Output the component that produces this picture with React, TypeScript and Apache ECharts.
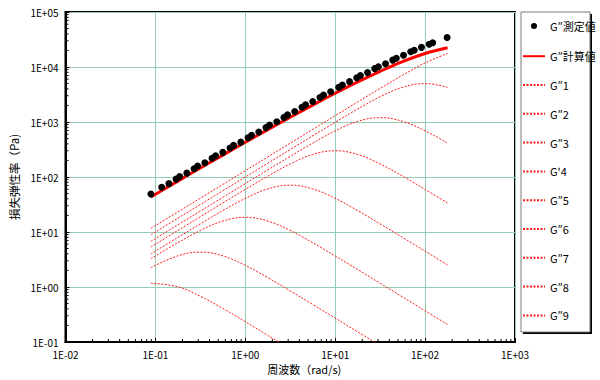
import React, { useEffect, useRef } from 'react';
import * as echarts from 'echarts';

const FONT = '"Noto Sans CJK JP", "Noto Sans", sans-serif';

// Measured G'' (frequency rad/s, Pa)
const freqMeasured = [0.0891, 0.1175, 0.1413, 0.1698, 0.1862, 0.2239, 0.2692, 0.2951, 0.3548, 0.4266, 0.4677, 0.5623, 0.6761, 0.7413, 0.8913, 1.072, 1.175, 1.413, 1.698, 1.862, 2.239, 2.692, 2.951, 3.548, 4.266, 4.677, 5.623, 6.761, 7.413, 8.913, 10.96, 12.02, 14.45, 17.38, 19.05, 22.91, 27.54, 30.2, 36.31, 43.65, 47.86, 57.54, 69.18, 75.86, 91.2, 110.9, 121.6, 175.8];
const gMeasured = [49.2, 64.9, 75.7, 91.4, 102.1, 117.5, 141.6, 158.1, 182.0, 218.8, 244.3, 280.5, 337.3, 375.8, 430.5, 517.6, 575.4, 659.2, 790.7, 879.0, 1014, 1213, 1349, 1552, 1849, 2051, 2360, 2799, 3097, 3540, 4266, 4710, 5420, 6383, 7015, 7907, 9333, 10140, 11430, 13340, 14390, 16370, 18880, 20180, 22750, 26000, 27610, 34440];

// Model curves sampled at these frequencies
const freqModel = [0.0891, 0.1778, 0.3162, 0.5623, 1, 1.778, 3.162, 5.623, 10, 17.78, 31.62, 56.23, 100, 177.8];
const gCalc = [43.3, 84.2, 145.5, 250.3, 427.7, 725.5, 1221, 2032, 3328, 5344, 8344, 12517, 17608, 22343];
const g1 = [11.6, 23.2, 41.2, 73.3, 130.3, 231.6, 412, 732.5, 1303, 2311, 4079, 7103, 11853, 17617];
const g2 = [8.91, 17.8, 31.6, 56.2, 100, 177.8, 316, 561, 990, 1724, 2877, 4276, 5000, 4276];
const g3 = [6.76, 13.5, 24.0, 42.7, 75.9, 134.6, 237.6, 413.8, 690.5, 1026, 1200, 1026, 690.5, 413.8];
const g4 = [5.35, 10.67, 18.97, 33.7, 59.4, 103.4, 172.6, 256.6, 300, 256.6, 172.6, 103.4, 59.4, 33.7];
const g5 = [4.0, 7.97, 14.06, 24.5, 40.9, 60.7, 71, 60.7, 40.9, 24.5, 14.06, 7.97, 4.49, 2.52];
const g6 = [3.27, 6.38, 10.64, 15.82, 18.5, 15.82, 10.64, 6.38, 3.66, 2.08, 1.17, 0.658, 0.37, 0.208];
const g7 = [2.25, 3.68, 4.3, 3.68, 2.47, 1.48, 0.851, 0.482, 0.272, 0.153, 0.086];
const g8 = [1.17, 1.009, 0.679, 0.407, 0.234, 0.132, 0.0746];
const g9: number[] = [];

const modeNames = ['G″1', 'G″2', 'G″3', "G'4", 'G″5', 'G″6', 'G″7', 'G″8', 'G″9'];
const modeValues = [g1, g2, g3, g4, g5, g6, g7, g8, g9];
const measuredName = 'G″測定値';
const calcName = 'G″計算値';

const xTickLabels = ['1E-02', '1E-01', '1E+00', '1E+01', '1E+02', '1E+03'];
const yTickLabels = ['1E-01', '1E+00', '1E+01', '1E+02', '1E+03', '1E+04', '1E+05'];
const xMin = 0.01, xMax = 1000, yMin = 0.1, yMax = 100000;

function minorTicks(lo: number, hi: number) {
  const out: number[] = [];
  for (let d = lo; d < hi * 0.99; d *= 10) {
    for (let k = 2; k <= 9; k++) out.push(+(d * k).toPrecision(3));
  }
  return out;
}

export default function App() {
  const ref = useRef<HTMLDivElement>(null);
  useEffect(() => {
    const chart = echarts.init(ref.current!, null, { renderer: 'svg' });
    const pair = (fs: number[], vs: number[]) => vs.map((v, i) => [fs[i], v]);
    const gridLine = { show: true, lineStyle: { color: '#94ceb2', width: 1 } };
    const tickSeries = (vals: number[][], horizontal: boolean) => ({
      type: 'custom', silent: true, clip: false, z: 5,
      data: vals,
      renderItem: (_p: any, api: any) => {
        const pt = api.coord([api.value(0), api.value(1)]);
        return {
          type: 'line',
          shape: horizontal
            ? { x1: pt[0], y1: pt[1], x2: pt[0] + 3, y2: pt[1] }
            : { x1: pt[0], y1: pt[1], x2: pt[0], y2: pt[1] - 3 },
          style: { stroke: '#000', lineWidth: 1 },
        };
      },
    });
    const option: any = {
      animation: false,
      backgroundColor: '#fff',
      textStyle: { fontFamily: FONT },
      grid: { left: 56, right: 85, top: 12, bottom: 38, show: true, borderColor: '#000', borderWidth: 2, backgroundColor: '#fff' },
      legend: {
        orient: 'vertical',
        left: 522,
        top: 19,
        padding: 0,
        itemWidth: 22,
        itemHeight: 14,
        itemGap: 17.6,
        textStyle: { fontSize: 11, color: '#000', fontFamily: FONT },
        data: [
          { name: measuredName, icon: 'path://M0,0 M22,14 M8,7 a3,3 0 1,0 6,0 a3,3 0 1,0 -6,0 Z', itemStyle: { opacity: 1 } },
          { name: calcName, itemStyle: { opacity: 0 } },
          ...modeNames.map((n) => ({ name: n, itemStyle: { opacity: 0 } })),
        ],
      },
      graphic: [
        { type: 'rect', z: 0, silent: true, shape: { x: 523, y: 14, width: 69, height: 320 }, style: { fill: '#000' } },
        { type: 'rect', z: 1, silent: true, shape: { x: 521, y: 12, width: 69, height: 320 }, style: { fill: '#fff', stroke: '#7a7a7a', lineWidth: 1 } },
      ],
      xAxis: {
        type: 'log', logBase: 10, min: xMin, max: xMax,
        name: '周波数（rad/s)', nameLocation: 'middle', nameGap: 19,
        nameTextStyle: { fontSize: 11, color: '#000', fontFamily: FONT, padding: [0, 0, 0, 28] },
        axisLine: { show: true, lineStyle: { color: '#000', width: 2 } },
        axisTick: { show: true, inside: true, length: 4, lineStyle: { color: '#000' } },
        axisLabel: { fontSize: 10, color: '#000', margin: 7, fontFamily: FONT, formatter: (v: number) => xTickLabels[Math.round(Math.log10(v)) + 2] },
        splitLine: gridLine,
      },
      yAxis: {
        type: 'log', logBase: 10, min: yMin, max: yMax,
        name: '損失弾性率（Pa)', nameLocation: 'middle', nameGap: 43, nameRotate: 90,
        nameTextStyle: { fontSize: 11.5, color: '#000', fontFamily: FONT },
        axisLine: { show: true, lineStyle: { color: '#000', width: 2 } },
        axisTick: { show: true, inside: true, length: 4, lineStyle: { color: '#000' } },
        axisLabel: { fontSize: 10, color: '#000', margin: 7, fontFamily: FONT, formatter: (v: number) => yTickLabels[Math.round(Math.log10(v)) + 1] },
        splitLine: gridLine,
      },
      series: [
        ...modeNames.map((n, i) => ({
          name: n, type: 'line',
          data: pair(freqModel, modeValues[i]),
          symbol: 'none', smooth: 0.4, clip: true,
          lineStyle: { color: '#ff1a1a', width: 1, type: [2, 1.5] },
          itemStyle: { color: '#ff1a1a' },
          z: 2,
        })),
        {
          name: calcName, type: 'line',
          data: pair(freqModel, gCalc),
          symbol: 'none', smooth: 0.4,
          lineStyle: { color: '#ff0000', width: 3 },
          itemStyle: { color: '#ff0000' },
          z: 3,
        },
        {
          name: measuredName, type: 'scatter',
          data: pair(freqMeasured, gMeasured),
          symbol: 'circle', symbolSize: 7,
          itemStyle: { color: '#000', opacity: 1 },
          z: 4,
        },
        tickSeries(minorTicks(xMin, xMax).map((v) => [v, yMin]), false),
        tickSeries(minorTicks(yMin, yMax).map((v) => [xMin, v]), true),
      ],
    };
    chart.setOption(option);
    return () => chart.dispose();
  }, []);
  return <div ref={ref} style={{ position: 'absolute', left: 0, top: 0, width: 600, height: 380 }} />;
}
